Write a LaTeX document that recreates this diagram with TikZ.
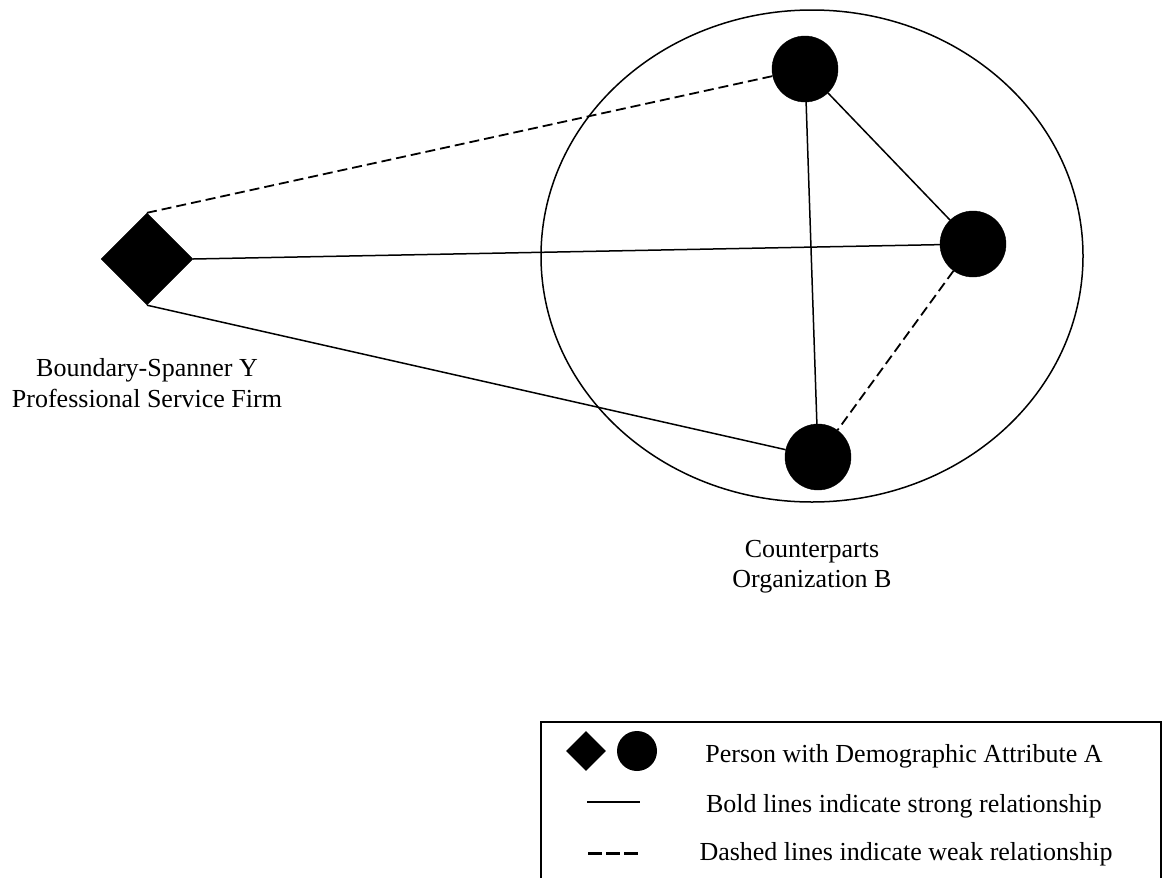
\documentclass[tikz,border=0pt]{standalone}
\usepackage{fontspec}
\setmainfont{Liberation Serif}
\usetikzlibrary{shapes.geometric}
\begin{document}
\begin{tikzpicture}[x=1pt,y=-1pt,
  person/.style={circle,fill=black,draw=black,minimum size=66pt,inner sep=0pt},
  spanner/.style={diamond,fill=black,draw=black,minimum size=92pt,inner sep=0pt},
  strong/.style={line width=1.5pt},
  weak/.style={line width=1.8pt,dash pattern=on 10pt off 5pt},
  lbl/.style={inner sep=0pt,anchor=base,font=\fontsize{26pt}{30pt}\selectfont},
  lgdp/.style={circle,fill=black,minimum size=40pt,inner sep=0pt},
  lgdd/.style={diamond,fill=black,minimum size=40pt,inner sep=0pt}]
\useasboundingbox (0,0) rectangle (1170,878);
% group ellipse
\node[ellipse,draw,line width=1.5pt,minimum width=542pt,minimum height=492pt,inner sep=0pt] (grp) at (812,256) {};
% persons
\node[spanner] (y) at (147,259) {};
\node[person] (t) at (805,69) {};
\node[person] (r) at (973,244) {};
\node[person] (b) at (818,457) {};
% connectors
\draw[weak] (y.north) -- (t);
\draw[strong] (y.east) -- (r);
\draw[strong] (y.south) -- (b);
\draw[strong] (t) -- (b);
\draw[strong] (t) -- (r);
\draw[weak] (r) -- (b);
% labels
\node[lbl] (ly1) at (147,376) {Boundary-Spanner Y};
\node[lbl] (ly2) at (147,407) {Professional Service Firm};
\node[lbl] (lc1) at (812,557) {Counterparts};
\node[lbl] (lc2) at (812,587) {Organization B};
% legend
\coordinate (bl) at (541,880);
\coordinate (tl) at (541,722);
\coordinate (tr) at (1161,722);
\coordinate (br) at (1161,880);
\draw[line width=1.8pt] (bl) -- (tl) -- (tr) -- (br);
\node[lgdd] (ld) at (586,751) {};
\node[lgdp] (lp) at (637,751) {};
\coordinate (s1) at (587,802);
\coordinate (s2) at (640,802);
\draw[line width=1.5pt] (s1) -- (s2);
\coordinate (d1) at (588,853);
\coordinate (d2) at (638,853);
\draw[line width=3pt,dash pattern=on 14pt off 4pt] (d1) -- (d2);
\node[lbl] (lt1) at (904,762) {Person with Demographic Attribute A};
\node[lbl] (lt2) at (904,812) {Bold lines indicate strong relationship};
\node[lbl] (lt3) at (906,860) {Dashed lines indicate weak relationship};
\end{tikzpicture}
\end{document}
